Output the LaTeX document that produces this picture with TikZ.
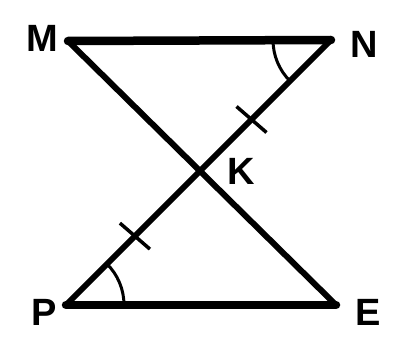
\documentclass[tikz,border=0pt]{standalone}
\usepackage{fontspec}
\setmainfont{Liberation Sans}
\usetikzlibrary{calc}
\begin{document}
\begin{tikzpicture}[x=1pt,y=1pt,
  diag/.style={line width=6pt, line cap=round},
  base/.style={line width=8.5pt, line cap=round},
  tickmark/.style={line width=3.5pt},
  anglemark/.style={line width=3pt},
  lab/.style={font=\fontsize{38}{38}\selectfont\bfseries, inner sep=0pt}]
\useasboundingbox[fill=white] (0,0) rectangle (409,338);
\coordinate (M) at (68,297);
\coordinate (N) at (331,298);
\coordinate (P) at (66,33);
\coordinate (E) at (336,33);
\draw[base] (M) -- (N);
\draw[base] (P) -- (E);
\draw[diag] (M) -- (E);
\draw[diag] (N) -- (P);
\coordinate (t1) at ($(N)!0.30!(P)$);
\coordinate (t2) at ($(N)!0.74!(P)$);
\draw[tickmark] (t1) +(-15,13) -- +(15,-13);
\draw[tickmark] (t2) +(-15,13) -- +(15,-13);
\draw[anglemark] ([shift={(180:58)}]N) arc[start angle=180,end angle=225,radius=58];
\draw[anglemark] ([shift={(0:58)}]P) arc[start angle=0,end angle=45,radius=58];
\node[lab] (lM) at (42,300) {M};
\node[lab] (lN) at (364,294) {N};
\node[lab] (lK) at (241,167) {K};
\node[lab] (lP) at (44,26) {P};
\node[lab] (lE) at (368,26) {E};
\end{tikzpicture}
\end{document}
